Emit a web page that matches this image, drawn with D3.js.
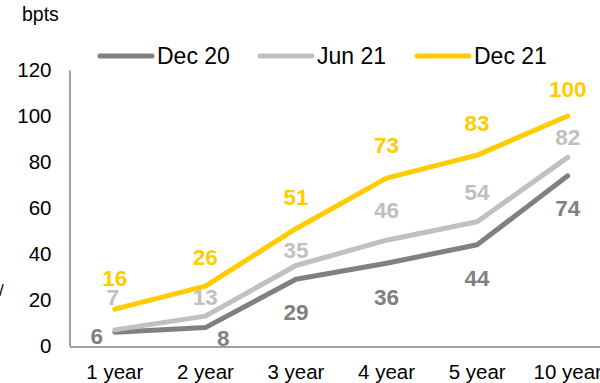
<!DOCTYPE html>
<html><head><meta charset="utf-8">
<script src="https://cdn.jsdelivr.net/npm/d3@7"></script>
<style>body{margin:0;background:#fff}svg{display:block;font-family:Arial,"Liberation Sans",sans-serif}</style>
</head><body><svg id="c" width="600" height="383"></svg>
<script>
const categories = ["1 year","2 year","3 year","4 year","5 year","10 year"];
const seriesNames = ["Dec 20","Jun 21","Dec 21"];
const dec20 = [6, 8, 29, 36, 44, 74];
const jun21 = [7, 13, 35, 46, 54, 82];
const dec21 = [16, 26, 51, 73, 83, 100];
const yTicks = [0, 20, 40, 60, 80, 100, 120];

const colors = ["#808080", "#c0c0c0", "#ffcc00"];
// label offsets (dx, dy of label centre relative to point), style only
const labelOffsets = [
  [[-18,4],[18,11],[0,33],[0,34],[0,33],[0,32]],
  [[-2,-33],[0,-19],[0,-15],[0,-30],[0,-30],[0,-20]],
  [[0,-31],[0,-29],[0,-32],[0,-33],[0,-32],[0,-27]]
];
const FONT = "Arial, 'Liberation Sans', sans-serif";

const svg = d3.select("#c");
const x = d3.scaleBand().domain(categories).range([69.5, 613]);
const y = d3.scaleLinear().domain([0,120]).range([346, 70]);

// y axis
const ya = svg.append("g").attr("transform","translate(69.5,0)")
  .call(d3.axisLeft(y).tickValues(yTicks).tickSize(0).tickPadding(18));
ya.select(".domain").attr("stroke","#808080").attr("stroke-width",1.5);
ya.selectAll("text").attr("font-size",20.5).attr("fill","#000").attr("font-family",FONT);

// x axis
const xa = svg.append("g").attr("transform","translate(0,346.5)")
  .call(d3.axisBottom(x).tickSize(0).tickPadding(18));
xa.select(".domain").attr("stroke","#808080").attr("stroke-width",1.5);
xa.selectAll("text").attr("font-size",20.5).attr("fill","#000").attr("font-family",FONT);

const allSeries = [dec20, jun21, dec21];
const line = d3.line().x((d,i)=>x(categories[i]) + x.bandwidth()/2).y(d=>y(d));

allSeries.forEach((s,k)=>{
  svg.append("path").datum(s).attr("d",line).attr("fill","none")
    .attr("stroke",colors[k]).attr("stroke-width",5).attr("stroke-linecap","round").attr("stroke-linejoin","round");
});
allSeries.forEach((s,k)=>{
  svg.append("g").selectAll("text").data(s).join("text")
    .attr("x",(d,i)=>x(categories[i]) + x.bandwidth()/2 + labelOffsets[k][i][0])
    .attr("y",(d,i)=>y(d) + labelOffsets[k][i][1])
    .attr("dy","0.35em").attr("text-anchor","middle")
    .attr("font-size",22.5).attr("font-weight","bold").attr("fill",colors[k])
    .text(d=>d);
});

// legend
const legX = [100, 260, 417];
seriesNames.forEach((n,k)=>{
  svg.append("line").attr("x1",legX[k]).attr("x2",legX[k]+52).attr("y1",56).attr("y2",56)
    .attr("stroke",colors[k]).attr("stroke-width",5).attr("stroke-linecap","round");
  svg.append("text").attr("x",legX[k]+57).attr("y",56).attr("dy","0.36em")
    .attr("font-size",23).attr("fill","#000").text(n);
});

svg.append("text").attr("x",22).attr("y",14).attr("dy","0.35em").attr("font-size",19.5).attr("fill","#000").text("bpts");
svg.append("text").attr("x",-1).attr("y",290).attr("dy","0.35em").attr("font-size",17).attr("fill","#000").text("/");
</script></body></html>
